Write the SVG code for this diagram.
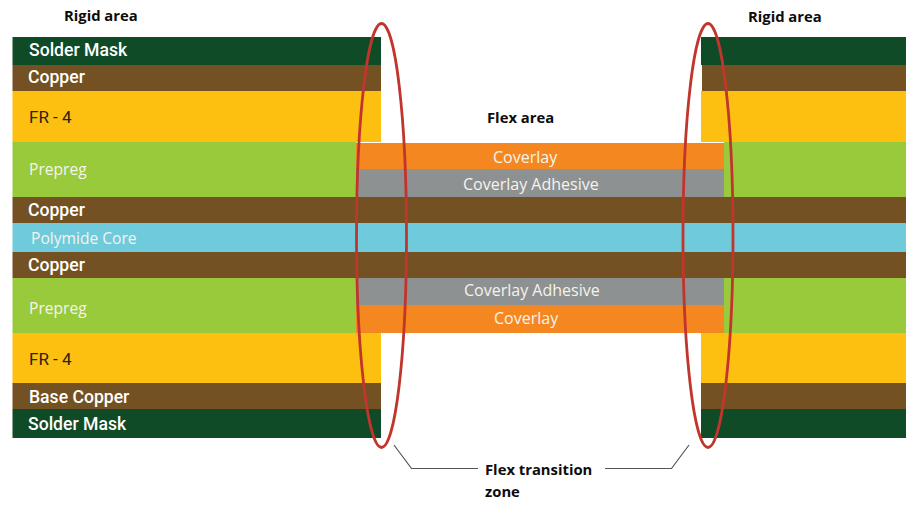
<svg xmlns="http://www.w3.org/2000/svg" width="918" height="512" viewBox="0 0 918 512">
<style>
.sm{fill:#104b27}.cu{fill:#745122}.fr{fill:#fec010}.pp{fill:#99ca3c}.pi{fill:#6fcbdc}.cv{fill:#f58720}.ad{fill:#8e9191}
text{font-family:"Roboto","Liberation Sans",sans-serif;font-size:17.6px;font-weight:500;fill:#fff}
.o{font-family:"Open Sans","Liberation Sans",sans-serif;font-size:16px;font-weight:400;fill:#f4f4ec}
.n{font-size:15.6px}
.d{font-weight:400;font-size:17px;fill:#2a2416}
.b{font-family:"Open Sans","Liberation Sans",sans-serif;font-size:14.8px;font-weight:700;fill:#0c0c0c}
.z{fill:none;stroke:#c1352d;stroke-width:2.800}
.l{fill:none;stroke:#555;stroke-width:1.200}
</style>
<rect width="918" height="512" fill="#fff"/>
<g id="rigid-left">
<rect class="sm" x="12.500" y="37" width="368.500" height="28"/>
<rect class="cu" x="12.500" y="65" width="368.500" height="26"/>
<rect class="fr" x="12.500" y="91" width="368.500" height="51"/>
<rect class="pp" x="12.500" y="142" width="344" height="55"/>
<rect class="pp" x="12.500" y="278" width="344" height="55"/>
<rect class="fr" x="12.500" y="333" width="368.500" height="50"/>
<rect class="cu" x="12.500" y="383" width="368.500" height="26"/>
<rect class="sm" x="12.500" y="409" width="368.500" height="29"/>
</g>
<g id="rigid-right">
<rect class="sm" x="701" y="37" width="205" height="28"/>
<rect class="cu" x="702" y="65" width="204" height="26"/>
<rect class="fr" x="701" y="91" width="205" height="51"/>
<rect class="pp" x="724" y="142" width="182" height="55"/>
<rect class="pp" x="724" y="278" width="182" height="55"/>
<rect class="fr" x="701" y="333" width="205" height="50"/>
<rect class="cu" x="701" y="383" width="205" height="26"/>
<rect class="sm" x="701" y="409" width="205" height="29"/>
</g>
<g id="flex">
<rect class="cv" x="356" y="143" width="368" height="26"/>
<rect class="ad" x="356" y="169" width="368" height="28"/>
<rect class="ad" x="356" y="278" width="368" height="27"/>
<rect class="cv" x="356" y="305" width="368" height="28"/>
</g>
<g id="core">
<rect class="cu" x="12.500" y="197" width="893.500" height="26"/>
<rect class="pi" x="12.500" y="223" width="893.500" height="29"/>
<rect class="cu" x="12.500" y="252" width="893.500" height="26"/>
</g>
<g id="zones">
<ellipse id="zone-left" class="z" cx="381.500" cy="235.500" rx="25" ry="212"/>
<ellipse id="zone-right" class="z" cx="708" cy="235.500" rx="25" ry="212"/>
</g>
<g id="connectors">
<path class="l" d="M394 445L411.500 468.500H478"/>
<path class="l" d="M605 468.500H671.500L689 445"/>
</g>
<g id="labels">
<text x="29" y="56">Solder Mask</text>
<text x="28" y="83">Copper</text>
<text class="d" x="29" y="123">FR - 4</text>
<text class="o n" x="29" y="175">Prepreg</text>
<text x="28" y="216">Copper</text>
<text class="o n" x="31" y="244">Polymide Core</text>
<text x="28" y="271">Copper</text>
<text class="o n" x="29" y="314">Prepreg</text>
<text class="d" x="29" y="365">FR - 4</text>
<text x="29" y="403">Base Copper</text>
<text x="28" y="430">Solder Mask</text>
<text class="o" x="493" y="163">Coverlay</text>
<text class="o" x="463" y="190">Coverlay Adhesive</text>
<text class="o" x="464" y="296">Coverlay Adhesive</text>
<text class="o" x="494" y="324">Coverlay</text>
<text class="b" x="64" y="21">Rigid area</text>
<text class="b" x="748" y="22">Rigid area</text>
<text class="b" x="487" y="123">Flex area</text>
<text class="b" x="485" y="475">Flex transition</text>
<text class="b" x="485" y="497">zone</text>
</g>
</svg>
